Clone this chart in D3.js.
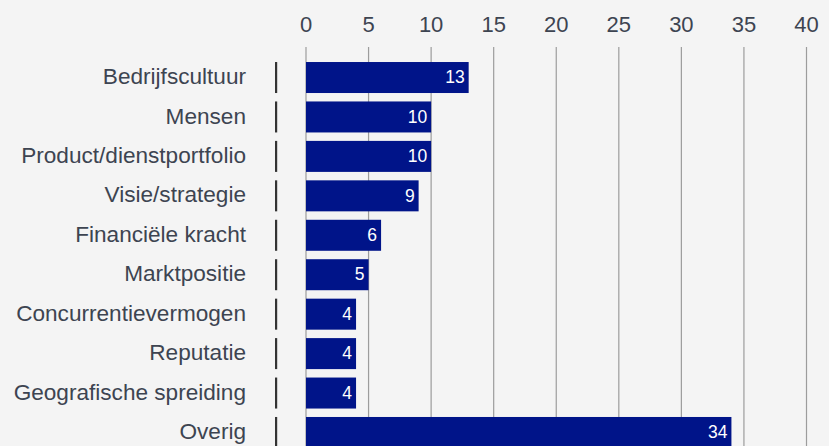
<!DOCTYPE html>
<html>
<head>
<meta charset="utf-8">
<script src="https://cdn.jsdelivr.net/npm/d3@7"></script>
<style>
  html, body { margin: 0; padding: 0; background: #f4f4f4; }
  svg { display: block; font-family: "Liberation Sans", Arial, sans-serif; }
</style>
</head>
<body>
<svg id="chart" width="829" height="446"></svg>
<script>
// chart data
const categories = [
  "Bedrijfscultuur", "Mensen", "Product/dienstportfolio", "Visie/strategie",
  "Financiële kracht", "Marktpositie", "Concurrentievermogen", "Reputatie",
  "Geografische spreiding", "Overig"
];
const values = [13, 10, 10, 9, 6, 5, 4, 4, 4, 34];
const xTicks = [0, 5, 10, 15, 20, 25, 30, 35, 40];

const width = 829, height = 446;
const svg = d3.select("#chart");

const x = d3.scaleLinear().domain([0, 40]).range([306, 806.5]);
const y = d3.scaleBand()
    .domain(categories)
    .range([57.8, 57.8 + 39.44 * categories.length])
    .paddingInner(0.214)
    .paddingOuter(0.107);

const textColor = "#3d4451";

// gridlines
svg.append("g").selectAll("line")
    .data(xTicks)
    .join("line")
    .attr("x1", d => x(d)).attr("x2", d => x(d))
    .attr("y1", 47).attr("y2", height)
    .attr("stroke", "#9c9c9c")
    .attr("stroke-width", 1.2);

// top tick labels
svg.append("g").selectAll("text")
    .data(xTicks)
    .join("text")
    .attr("x", d => x(d))
    .attr("y", 32)
    .attr("text-anchor", "middle")
    .style("font-size", "22px")
    .style("fill", textColor)
    .text(d => d);

// category labels + small tick bars
const rows = svg.append("g").selectAll("g")
    .data(categories)
    .join("g");

rows.append("rect")
    .attr("x", 275)
    .attr("y", d => y(d))
    .attr("width", 2.2)
    .attr("height", y.bandwidth())
    .attr("fill", "#333");

rows.append("text")
    .attr("x", 246)
    .attr("y", d => y(d) + y.bandwidth() / 2)
    .attr("dy", "0.29em")
    .attr("text-anchor", "end")
    .style("font-size", "22.6px")
    .style("fill", textColor)
    .text(d => d);

// bars
const bars = svg.append("g").selectAll("g")
    .data(categories.map((c, i) => ({ cat: c, value: values[i] })))
    .join("g");

bars.append("rect")
    .attr("x", x(0))
    .attr("y", d => y(d.cat))
    .attr("width", d => x(d.value) - x(0))
    .attr("height", y.bandwidth())
    .attr("fill", "#001489");

bars.append("text")
    .attr("x", d => x(d.value) - 4)
    .attr("y", d => y(d.cat) + y.bandwidth() / 2)
    .attr("dy", "0.33em")
    .attr("text-anchor", "end")
    .style("font-size", "17.5px")
    .style("fill", "#fff")
    .text(d => d.value);
</script>
</body>
</html>
